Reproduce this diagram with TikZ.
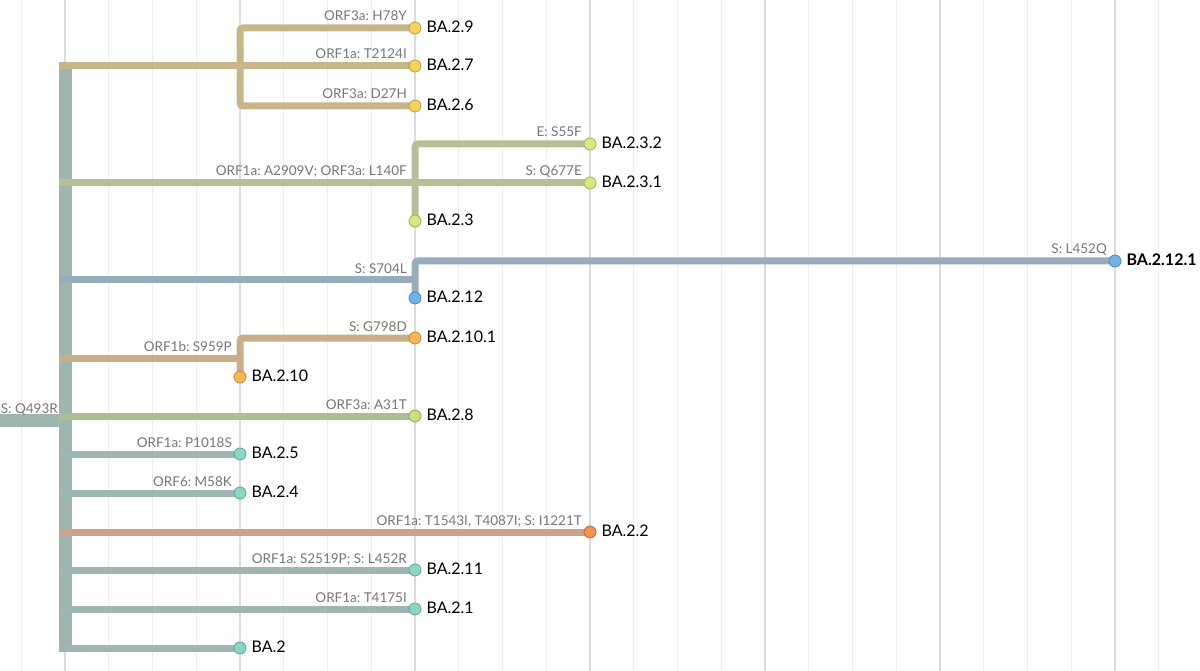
\documentclass[tikz,border=0pt]{standalone}
\usepackage{fontspec}
\setmainfont{Lato}
\usetikzlibrary{positioning}
\frenchspacing

\definecolor{trunkc}{HTML}{9DB4AF}
\definecolor{tanc}{HTML}{C6B68A}
\definecolor{olivec}{HTML}{B7BF97}
\definecolor{bluec}{HTML}{97ADBB}
\definecolor{ochrec}{HTML}{CBAE88}
\definecolor{greenc}{HTML}{AEBE93}
\definecolor{tealc}{HTML}{9FB7B2}
\definecolor{rustc}{HTML}{D1A28A}
\definecolor{yellowd}{HTML}{F6D35C}
\definecolor{limed}{HTML}{D9E77D}
\definecolor{blued}{HTML}{6EB4E8}
\definecolor{oranged}{HTML}{F7B755}
\definecolor{greend}{HTML}{C8E07F}
\definecolor{teald}{HTML}{8BD5C5}
\definecolor{rustd}{HTML}{F2944F}
\definecolor{mutc}{HTML}{777777}
\definecolor{minorc}{HTML}{EEEEEE}
\definecolor{majorc}{HTML}{DCDCDC}

\pgfdeclarelayer{bg}
\pgfsetlayers{bg,main}

\tikzset{
  tip/.style={circle, fill=#1, draw=#1!75!black, line width=0.8pt, minimum size=12pt, inner sep=0pt},
  lbl/.style={inner sep=0pt, yshift=1.5pt, font=\fontsize{16}{16}\selectfont},
  mut/.style={inner sep=0pt, anchor=base east, text=mutc, font=\fontsize{13.5}{14}\selectfont},
  branch/.style={line width=7pt, color=#1},
  stem/.style={line width=13pt, color=trunkc}
}

\begin{document}
\begin{tikzpicture}[x=1pt,y=-1pt]
\useasboundingbox (0,0) rectangle (1200,671);

\begin{pgfonlayer}{bg}
\fill[white] (0,0) rectangle (1200,671);
\foreach \i in {0,...,27}
  \draw[minorc, line width=1pt] ({21.25+43.75*\i},0) -- ++(0,671);
\foreach \i in {0,...,6}
  \draw[majorc, line width=2pt] ({65+175*\i},0) -- ++(0,671);
\end{pgfonlayer}

\coordinate (trunk) at (59,0);
\coordinate (top) at (65,62);
\coordinate (bot) at (65,652);
\coordinate (root) at (0,420);
\coordinate (rootend) at (65,420);
\coordinate (g1) at (240,66);
\coordinate (g2) at (415,183);
\coordinate (g3) at (415,280);
\coordinate (g4) at (240,358);

\node[tip=yellowd] (29) at (415,28) {};
\node[tip=yellowd] (27) at (415,66) {};
\node[tip=yellowd] (26) at (415,106) {};
\node[tip=limed] (232) at (590,144) {};
\node[tip=limed] (231) at (590,183) {};
\node[tip=limed] (23) at (415,221) {};
\node[tip=blued] (2121) at (1115,261) {};
\node[tip=blued] (212) at (415,298) {};
\node[tip=oranged] (2101) at (415,338) {};
\node[tip=oranged] (210) at (240,377) {};
\node[tip=greend] (28) at (415,416) {};
\node[tip=teald] (25) at (240,454) {};
\node[tip=teald] (24) at (240,493) {};
\node[tip=rustd] (22) at (590,532) {};
\node[tip=teald] (211) at (415,570) {};
\node[tip=teald] (21) at (415,609) {};
\node[tip=teald] (2) at (240,648) {};

\node[lbl, right=5pt of 29] (29l) {BA.2.9};
\node[lbl, right=5pt of 27] (27l) {BA.2.7};
\node[lbl, right=5pt of 26] (26l) {BA.2.6};
\node[lbl, right=5pt of 232] (232l) {BA.2.3.2};
\node[lbl, right=5pt of 231] (231l) {BA.2.3.1};
\node[lbl, right=5pt of 23] (23l) {BA.2.3};
\node[lbl, right=5pt of 2121, font=\fontsize{16}{16}\selectfont\bfseries] (2121l) {BA.2.12.1};
\node[lbl, right=5pt of 212] (212l) {BA.2.12};
\node[lbl, right=5pt of 2101] (2101l) {BA.2.10.1};
\node[lbl, right=5pt of 210] (210l) {BA.2.10};
\node[lbl, right=5pt of 28] (28l) {BA.2.8};
\node[lbl, right=5pt of 25] (25l) {BA.2.5};
\node[lbl, right=5pt of 24] (24l) {BA.2.4};
\node[lbl, right=5pt of 22] (22l) {BA.2.2};
\node[lbl, right=5pt of 211] (211l) {BA.2.11};
\node[lbl, right=5pt of 21] (21l) {BA.2.1};
\node[lbl, right=5pt of 2] (2l) {BA.2};

\node[mut] (29m) at ([xshift=-8pt,yshift=7pt]29.center) {ORF3a: H78Y};
\node[mut] (27m) at ([xshift=-8pt,yshift=7pt]27.center) {ORF1a: T2124I};
\node[mut] (26m) at ([xshift=-8pt,yshift=7pt]26.center) {ORF3a: D27H};
\node[mut] (232m) at ([xshift=-8pt,yshift=7pt]232.center) {E: S55F};
\node[mut] (231m) at ([xshift=-8pt,yshift=7pt]231.center) {S: Q677E};
\node[mut] (g2m) at ([xshift=-8pt,yshift=7pt]g2) {ORF1a: A2909V; ORF3a: L140F};
\node[mut] (2121m) at ([xshift=-8pt,yshift=7pt]2121.center) {S: L452Q};
\node[mut] (g3m) at ([xshift=-8pt,yshift=7pt]g3) {S: S704L};
\node[mut] (2101m) at ([xshift=-8pt,yshift=7pt]2101.center) {S: G798D};
\node[mut] (g4m) at ([xshift=-8pt,yshift=7pt]g4) {ORF1b: S959P};
\node[mut] (rootm) at ([xshift=-7pt,yshift=7pt]rootend) {S: Q493R};
\node[mut] (28m) at ([xshift=-8pt,yshift=7pt]28.center) {ORF3a: A31T};
\node[mut] (25m) at ([xshift=-8pt,yshift=7pt]25.center) {ORF1a: P1018S};
\node[mut] (24m) at ([xshift=-8pt,yshift=7pt]24.center) {ORF6: M58K};
\node[mut] (22m) at ([xshift=-8pt,yshift=7pt]22.center) {ORF1a: T1543I, T4087I; S: I1221T};
\node[mut] (211m) at ([xshift=-8pt,yshift=7pt]211.center) {ORF1a: S2519P; S: L452R};
\node[mut] (21m) at ([xshift=-8pt,yshift=7pt]21.center) {ORF1a: T4175I};

\begin{pgfonlayer}{bg}
\draw[stem] (top) -- (bot);
\draw[stem] (root) -- (rootend);

\draw[branch=tanc] (g1 -| trunk) -- (27.center);
\draw[branch=tanc, rounded corners=3pt] (29.center) -| (g1) |- (26.center);

\draw[branch=olivec] (g2 -| trunk) -- (231.center);
\draw[branch=olivec, rounded corners=3pt] (232.center) -| (23.center);

\draw[branch=bluec] (g3 -| trunk) -- (g3);
\draw[branch=bluec, rounded corners=3pt] (2121.center) -| (212.center);

\draw[branch=ochrec] (g4 -| trunk) -- (g4);
\draw[branch=ochrec, rounded corners=3pt] (2101.center) -| (210.center);

\draw[branch=greenc] (28 -| trunk) -- (28.center);
\draw[branch=tealc] (25 -| trunk) -- (25.center);
\draw[branch=tealc] (24 -| trunk) -- (24.center);
\draw[branch=rustc] (22 -| trunk) -- (22.center);
\draw[branch=tealc] (211 -| trunk) -- (211.center);
\draw[branch=tealc] (21 -| trunk) -- (21.center);
\draw[branch=tealc] (2 -| trunk) -- (2.center);
\end{pgfonlayer}
\end{tikzpicture}
\end{document}
